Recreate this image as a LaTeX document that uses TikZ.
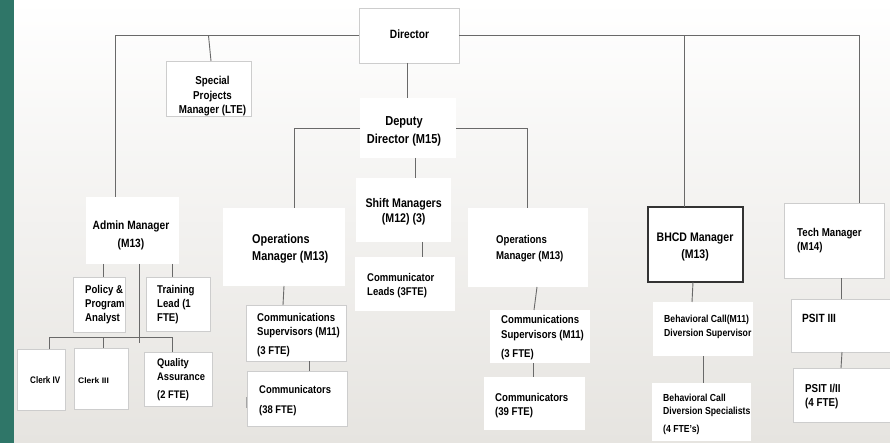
\documentclass[tikz,border=0pt]{standalone}
\usepackage{fontspec}
\setmainfont[FakeStretch=0.85]{Liberation Sans}
\definecolor{bandteal}{RGB}{47,118,104}
\definecolor{bgbot}{RGB}{230,228,224}
\definecolor{linegray}{RGB}{105,105,105}
\definecolor{boxedge}{RGB}{205,205,205}
\begin{document}
\begin{tikzpicture}[x=1pt,y=-1pt,
  box/.style={draw=boxedge,line width=0.8pt,fill=white,inner sep=0pt,outer sep=0pt},
  nbox/.style={draw=none,fill=white,inner sep=0pt,outer sep=0pt},
  tbox/.style={draw=black!80,line width=1.6pt,fill=white,inner sep=0pt,outer sep=0pt},
  lbl/.style n args={2}{inner sep=0pt,align=left,anchor=base west,font=\fontsize{#1}{#2}\selectfont\bfseries},
  clbl/.style n args={2}{inner sep=0pt,align=center,anchor=base,font=\fontsize{#1}{#2}\selectfont\bfseries},
  conn/.style={draw=linegray,line width=0.9pt}]
\useasboundingbox (0,0) rectangle (890,443);
\shade[top color=white,bottom color=bgbot] (0,0) rectangle (890,443);
\fill[bandteal] (0,0) rectangle (14,443);

% boxes
\node[box,minimum width=100,minimum height=55] (dir) at (409,35.5) {};
\node[box,minimum width=85,minimum height=55] (sp) at (208.5,88.5) {};
\node[nbox,minimum width=96,minimum height=60] (dep) at (408,128) {};
\node[nbox,minimum width=95,minimum height=64] (shift) at (403.5,210) {};
\node[nbox,minimum width=100,minimum height=54] (leads) at (405,284) {};
\node[nbox,minimum width=93,minimum height=67] (admin) at (132.5,230.5) {};
\node[nbox,minimum width=122,minimum height=78] (opsL) at (284,247) {};
\node[nbox,minimum width=120,minimum height=79] (opsR) at (528,247.5) {};
\node[box,minimum width=100,minimum height=56] (csL) at (296,333) {};
\node[box,minimum width=100,minimum height=55] (commsL) at (297,398.5) {};
\node[nbox,minimum width=100,minimum height=53] (csR) at (540,336.5) {};
\node[nbox,minimum width=101,minimum height=53] (commsR) at (534.5,403.5) {};
\node[tbox,minimum width=95,minimum height=75] (bhcd) at (695.5,244.5) {};
\node[nbox,minimum width=100,minimum height=54] (beh) at (703,329) {};
\node[nbox,minimum width=99,minimum height=58] (spec) at (701.5,412) {};
\node[box,minimum width=100,minimum height=75] (tech) at (834,240.5) {};
\node[box,minimum width=101,minimum height=53] (psit3) at (841.5,325.5) {};
\node[box,minimum width=99,minimum height=54] (psit12) at (842.5,395) {};
\node[box,minimum width=52,minimum height=55] (policy) at (99,304.5) {};
\node[box,minimum width=64,minimum height=54] (train) at (178,304) {};
\node[box,minimum width=48,minimum height=61] (c4) at (41,379.5) {};
\node[box,minimum width=54,minimum height=61] (c3) at (101,378.5) {};
\node[box,minimum width=68,minimum height=54] (qa) at (178,379) {};

% connectors
\draw[conn] (dir.west) -| (admin.north -| 115,0);
\draw[conn] (dir.east) -| (tech.north -| 859,0);
\draw[conn] (bhcd.north -| 684,0) |- (dir.east);
\draw[conn] (sp.north -| 211,0) -- (sp.north |- dir.west);
\draw[conn] (dir.south -| 407,0) -- (dep.north -| 407,0);
\draw[conn] (dep.west) -| (opsL.north -| 294,0);
\draw[conn] (dep.east) -| (opsR.north -| 527,0);
\draw[conn] (dep.south -| 415,0) -- (shift.north -| 415,0);
\draw[conn] (shift.south -| 422,0) -- (leads.north -| 422,0);
\draw[conn] (opsL.south -| 284,0) -- (csL.north -| 283,0);
\draw[conn] (csL.south -| 309,0) -- (commsL.north -| 309,0);
\draw[conn] (opsR.south -| 537,0) -- (csR.north -| 534,0);
\draw[conn] (csR.south -| 533,0) -- (commsR.north -| 533,0);
\draw[conn] (bhcd.south -| 693,0) -- (beh.north -| 692,0);
\draw[conn] (beh.south -| 703,0) -- (spec.north -| 703,0);
\draw[conn] (tech.south -| 841,0) -- (psit3.north -| 841,0);
\draw[conn] (psit3.south -| 842,0) -- (psit12.north -| 841,0);
\draw[conn] (admin.south -| 103,0) -- (policy.north -| 103,0);
\draw[conn] (admin.south -| 172,0) -- (train.north -| 172,0);
\coordinate (hubend) at (139,343);
\coordinate (busM) at (103,337);
\coordinate (busR) at (172,337);
\draw[conn] (admin.south -| hubend) -- (hubend);
\draw[conn] (c4.north -| 49,0) |- (busR) -- (qa.north -| busR);
\draw[conn] (c3.north -| busM) -- (busM);
\draw[draw=linegray!60,line width=0.8pt] (246,397) -- (246,408);

% texts (anchor = baseline of the last line)
\node[clbl={12}{14}] at (409.5,38.3) {Director};
\node[clbl={11.5}{14.5}] at (212.5,114) {Special\\Projects\\Manager (LTE)};
\node[clbl={13}{18}] at (404,143.7) {Deputy\\Director (M15)};
\node[clbl={12.5}{15.5}] at (403.7,223) {Shift Managers\\(M12) (3)};
\node[lbl={11.2}{14}] at (367,295) {Communicator\\Leads (3FTE)};
\node[clbl={12}{18}] at (131,247.3) {Admin Manager\\(M13)};
\node[lbl={12.8}{16.5}] at (252,260.1) {Operations\\Manager (M13)};
\node[lbl={11.3}{16}] at (496,259) {Operations\\Manager (M13)};
\node[lbl={11.3}{14}] at (257,354) {Communications\\Supervisors (M11)\\[5pt](3 FTE)};
\node[lbl={11.1}{20}] at (259,413) {Communicators\\(38 FTE)};
\node[lbl={11.3}{15}] at (501,357) {Communications\\Supervisors (M11)\\[4pt](3 FTE)};
\node[lbl={11.3}{14}] at (495,415) {Communicators\\(39 FTE)};
\node[clbl={12.4}{17}] at (695,258.5) {BHCD Manager\\(M13)};
\node[lbl={10.2}{14}] at (664,336.7) {Behavioral Call(M11)\\Diversion Supervisor};
\node[lbl={10.2}{13}] at (663,432.7) {Behavioral Call\\Diversion Specialists\\[5pt](4 FTE's)};
\node[lbl={11.4}{14}] at (797,251) {Tech Manager\\(M14)};
\node[lbl={11.9}{14}] at (802,322) {PSIT III};
\node[lbl={11.5}{14}] at (805,406) {PSIT I/II\\(4 FTE)};
\node[lbl={11.3}{14}] at (85,321) {Policy \&\\Program\\Analyst};
\node[lbl={11.3}{14}] at (157,321) {Training\\Lead (1\\FTE)};
\node[lbl={9.5}{11}] at (30,383) {Clerk IV};
\node[lbl={8}{10}] at (78,383) {\scalebox{1.25}[1]{Clerk III}};
\node[lbl={11}{14}] at (157,398) {Quality\\Assurance\\[4pt](2 FTE)};
\end{tikzpicture}
\end{document}
